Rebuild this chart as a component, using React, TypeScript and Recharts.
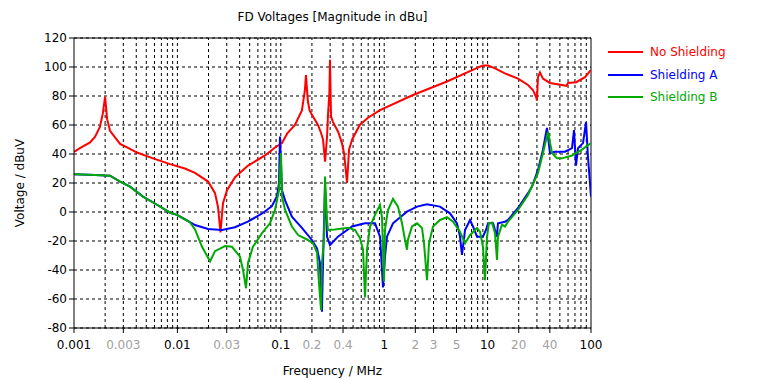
import React from 'react';
import {
  CartesianGrid, Line, LineChart, ReferenceLine, XAxis, YAxis,
} from 'recharts';

// frequency in MHz, voltage in dBuV
const noShielding: [number, number][] = [
  [0.001, 41.5], [0.00114, 44], [0.00143, 48], [0.0016, 52], [0.00178, 58.6], [0.0019, 68],
  [0.002, 79.5], [0.00209, 64], [0.00223, 56], [0.00279, 47], [0.00348, 43.5], [0.00407, 41],
  [0.00581, 37], [0.0085, 33], [0.0118, 30], [0.0148, 27], [0.0198, 21], [0.0231, 13],
  [0.0247, 3.5], [0.0261, -14], [0.0276, 6], [0.0302, 15], [0.0361, 24], [0.0482, 32],
  [0.0704, 39], [0.0879, 44.5], [0.1027, 47.5], [0.115, 54], [0.137, 60], [0.16, 70],
  [0.171, 84], [0.175, 94.5], [0.183, 76], [0.19, 70], [0.2, 67], [0.229, 60], [0.245, 54.5],
  [0.256, 50], [0.268, 34.7], [0.28, 52], [0.286, 67], [0.295, 82], [0.299, 105], [0.306, 66],
  [0.32, 62], [0.36, 55], [0.39, 47.5], [0.41, 40], [0.437, 20], [0.457, 43], [0.49, 50],
  [0.58, 60], [0.697, 65], [0.911, 70.3], [1.9, 80.7], [4.05, 90], [8.44, 100.2], [9.03, 101],
  [10.1, 101], [11.8, 99], [14.7, 95.6], [19.7, 92], [24.6, 87.6], [27.5, 84], [29.4, 79.5],
  [30.0, 76.8], [30.7, 93], [32.1, 96.3], [34.3, 92], [40.1, 89], [58, 87], [59.9, 89],
  [72, 89.5], [87.5, 93], [100, 98],
];

const shieldingA: [number, number][] = [
  [0.001, 26], [0.0016, 25.5], [0.00223, 25], [0.00279, 21], [0.00348, 17.5], [0.00465, 10.6],
  [0.00635, 5], [0.0085, -0.5], [0.0099, -2], [0.0118, -5], [0.0148, -9], [0.0198, -11.7],
  [0.027, -12.4], [0.036, -10.5], [0.048, -6.7], [0.066, -1], [0.082, 4], [0.092, 11],
  [0.096, 20], [0.0982, 52], [0.1027, 15], [0.11, 8], [0.128, -3.2], [0.16, -11], [0.2, -19.3],
  [0.224, -25], [0.239, -35], [0.25, -68.7], [0.256, -35], [0.2675, 17.5], [0.28, -17],
  [0.299, -22.8], [0.357, -17], [0.488, -10], [0.652, -7.8], [0.815, -7.8], [0.911, -17],
  [0.974, -52], [1.018, -30.8], [1.064, -17], [1.216, -7.8], [1.66, 0.2], [2.08, 3.7],
  [2.59, 5.3], [3.46, 3.7], [4.33, -0.9], [5.06, -7.8], [5.41, -17], [5.65, -29.6],
  [6.05, -12.4], [6.76, -5.5], [7.22, -10], [7.9, -17], [9.0, -17], [9.65, -12.4],
  [10.1, -7.8], [11.3, -7.8], [12.3, -17], [12.6, -7.8], [14.7, -6.7], [15.75, -5.5],
  [19.7, 2.8], [24.6, 13], [26.9, 17.5], [30.7, 29], [34.3, 43], [37.5, 58], [40.1, 40.7],
  [44.9, 41.6], [56, 41.6], [65.5, 44], [68.5, 56.5], [71.6, 32], [74.9, 44], [83.7, 47.5],
  [89.5, 62], [93.5, 38], [100, 10.6],
];

const shieldingB: [number, number][] = [
  [0.001, 26], [0.0016, 25.5], [0.00223, 25], [0.00279, 21], [0.00348, 17.5], [0.00465, 10.6],
  [0.00635, 5], [0.0085, -0.5], [0.0099, -2], [0.0118, -5], [0.0132, -7], [0.0148, -12],
  [0.0173, -24], [0.0207, -34], [0.0231, -27], [0.0289, -23.5], [0.0337, -24], [0.0403, -30.8],
  [0.0431, -40], [0.0461, -52.6], [0.0482, -35], [0.0538, -24], [0.0658, -14.6],
  [0.0786, -7.8], [0.0879, 1.4], [0.0961, 15], [0.1004, 40.7], [0.1027, 10.6], [0.11, 1.4],
  [0.128, -10], [0.147, -15.9], [0.183, -19.3], [0.205, -21.6], [0.224, -28], [0.234, -49],
  [0.245, -67.6], [0.25, -35], [0.262, -19], [0.2675, 24.4], [0.28, -5.5], [0.286, -12.4],
  [0.334, -12], [0.4465, -10.8], [0.522, -12.4], [0.583, -18], [0.624, -26], [0.652, -59],
  [0.682, -26], [0.729, -10], [0.815, -2], [0.911, 4.8], [0.952, -3.9], [0.995, -48],
  [1.018, -12], [1.088, 1.4], [1.216, 9], [1.359, 3.7], [1.486, -7.8], [1.589, -19.3],
  [1.661, -26], [1.699, -19], [1.857, -10], [2.076, -7.8], [2.321, -11], [2.427, -21.6],
  [2.594, -47], [2.712, -21.6], [2.965, -10], [3.464, -5.5], [4.049, -3.6], [4.628, -6.7],
  [5.408, -13.6], [6.046, -21.6], [6.756, -16], [7.897, -11], [8.443, -13.6], [9.025, -24],
  [9.436, -47], [9.865, -17], [10.31, -7.8], [11.03, -7.3], [11.79, -14.6], [12.33, -33],
  [12.6, -17], [13.78, -8.7], [14.73, -10], [15.75, -6.7], [19.68, 1.4], [24.59, 11.7],
  [30.72, 27], [34.33, 40.7], [38.38, 55.4], [41.95, 40.7], [46.9, 37], [52.4, 37],
  [65.5, 39], [81.8, 43], [100, 47.5],
];

const freqTicks = [0.001, 0.003, 0.01, 0.03, 0.1, 0.2, 0.4, 1, 2, 3, 5, 10, 20, 40, 100];
const decadeTicks = [0.001, 0.01, 0.1, 1, 10, 100];
const voltTicks = [-80, -60, -40, -20, 0, 20, 40, 60, 80, 100, 120];

const series = [
  { name: 'No Shielding', color: '#ff0000', points: noShielding },
  { name: 'Shielding A', color: '#0000ff', points: shieldingA },
  { name: 'Shielding B', color: '#00aa00', points: shieldingB },
];

// minor grid: 1..9 in every decade
const gridFreqs: number[] = [];
[0.001, 0.01, 0.1, 1, 10].forEach((d) => {
  for (let k = 1; k <= 9; k += 1) {
    if (!(d === 0.001 && k === 1)) gridFreqs.push(+(d * k).toPrecision(3));
  }
});

const FONT = '"DejaVu Sans", Verdana, sans-serif';

function FreqTick({ x, y, payload }: any) {
  const isDecade = decadeTicks.includes(payload.value);
  return (
    <text x={x} y={y + 14} textAnchor="middle" fontSize={12} fontFamily={FONT}
      fill={isDecade ? '#000' : '#a0a0a0'}>
      {String(payload.value)}
    </text>
  );
}

function LegendBox() {
  return (
    <div style={{
      position: 'absolute', left: 608, top: 41, fontFamily: FONT, fontSize: 12,
    }}>
      {series.map((s) => (
        <div key={s.name} style={{ display: 'flex', alignItems: 'center', height: 22.5 }}>
          <div style={{ width: 35, height: 2, background: s.color, marginRight: 7 }} />
          <span style={{ color: s.color }}>{s.name}</span>
        </div>
      ))}
    </div>
  );
}

function App() {
  return (
    <div style={{ position: 'absolute', left: 0, top: 0, width: 759, height: 380, fontFamily: FONT }}>
      <LineChart width={759} height={380} margin={{ top: 38, right: 168, left: 0, bottom: 2 }}>
        <CartesianGrid vertical={false} stroke="#000" strokeDasharray="3 3" />
        {gridFreqs.map((f) => (
          <ReferenceLine key={f} x={f} stroke="#000" strokeDasharray="3 3" />
        ))}
        <ReferenceLine y={120} stroke="#000" />
        <ReferenceLine x={100} stroke="#000" />
        <XAxis
          dataKey="f"
          type="number"
          scale="log"
          domain={[0.001, 100]}
          ticks={freqTicks}
          interval={0}
          allowDataOverflow
          height={50}
          stroke="#000"
          tickSize={5}
          tick={<FreqTick />}
          label={{ value: 'Frequency / MHz', position: 'insideBottom', offset: 3, fontSize: 12, fill: '#000', fontFamily: FONT }}
        />
        <YAxis
          type="number"
          domain={[-80, 120]}
          ticks={voltTicks}
          interval={0}
          allowDataOverflow
          width={74}
          stroke="#000"
          tickSize={5}
          tick={{ fill: '#000', fontSize: 12, fontFamily: FONT }}
          label={{ value: 'Voltage / dBuV', angle: -90, position: 'insideLeft', offset: 20, fontSize: 12, fill: '#000', fontFamily: FONT, style: { textAnchor: 'middle' } }}
        />
        {series.map((s) => (
          <Line
            key={s.name}
            name={s.name}
            data={s.points.map(([f, v]) => ({ f, v }))}
            dataKey="v"
            type="linear"
            stroke={s.color}
            strokeWidth={2}
            dot={false}
            isAnimationActive={false}
          />
        ))}
      </LineChart>
      <div style={{
        position: 'absolute', left: 74, width: 517, top: 10, textAlign: 'center', fontSize: 12, color: '#000',
      }}>
        FD Voltages [Magnitude in dBu]
      </div>
      <LegendBox />
    </div>
  );
}

export default App;
